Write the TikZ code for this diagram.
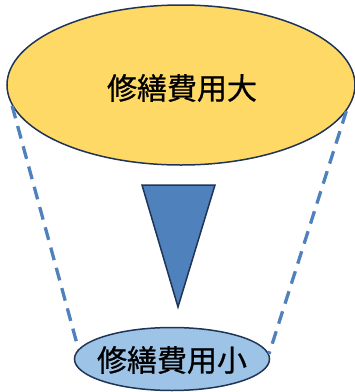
\documentclass[tikz,border=0pt]{standalone}
\usepackage{fontspec}
\newfontfamily\cjk[FakeBold=0.8]{Noto Sans CJK JP}
\usetikzlibrary{shapes.geometric}
\definecolor{ylw}{HTML}{FFD966}
\definecolor{edge}{HTML}{1F3456}
\definecolor{tri}{HTML}{4F81BD}
\definecolor{lblue}{HTML}{9DC3E6}
\definecolor{dash}{HTML}{4F81BD}
\tikzset{
  ell/.style={ellipse, draw=edge, line width=1.5pt, inner sep=0pt},
  lbl/.style={font=\cjk\fontsize{30}{36}\selectfont, inner sep=0pt},
  guide/.style={draw=dash, line width=3.3pt, dash pattern=on 13pt off 8pt}
}
\begin{document}
\begin{tikzpicture}[x=1pt,y=-1pt]
\useasboundingbox (0,0) rectangle (355,392);
\node[ell, fill=ylw, minimum width=348pt, minimum height=160pt] (big) at (181,85) {};
\node[lbl] (bigtxt) at (182,88) {修繕費用大};
\node[ell, fill=lblue, minimum width=195pt, minimum height=63pt] (small) at (172,359) {};
\node[lbl] (smalltxt) at (172,360) {修繕費用小};
\coordinate (tl) at (142,185);
\coordinate (tr) at (215,185);
\coordinate (tip) at (178,307);
\draw[fill=tri, draw=edge, line width=1.5pt, line join=miter] (tl) -- (tr) -- (tip) -- cycle;
\draw[guide] (big.187) -- (small.174);
\draw[guide] (big.351.5) -- (small.3);
\end{tikzpicture}
\end{document}
